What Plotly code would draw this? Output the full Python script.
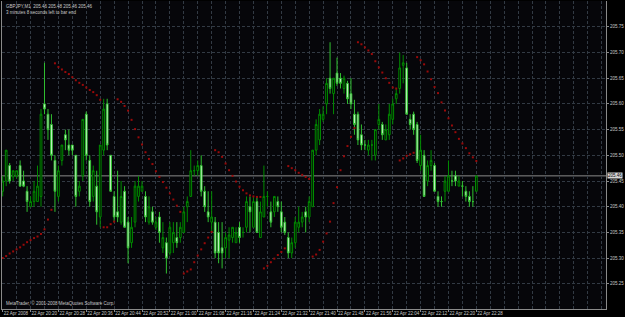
import pandas as pd
import plotly.graph_objects as go

# ---------------- data (GBPJPY, M1, 22 Apr 2008) ----------------
start_time = "2008-04-22 20:12"
n_bars = 137

opens = [205.43, 205.45, 205.48, 205.458, 205.46, 205.48, 205.45, 205.43, 205.40, 205.41,
         205.41, 205.42, 205.60, 205.58, 205.56, 205.49, 205.42, 205.49, 205.54, 205.52,
         205.52, 205.50, 205.43, 205.46, 205.58, 205.49, 205.42, 205.44, 205.38, 205.51,
         205.60, 205.50, 205.42, 205.39, 205.37, 205.43, 205.37, 205.33, 205.37, 205.42,
         205.43, 205.42, 205.37, 205.39, 205.36, 205.38, 205.32, 205.33, 205.31, 205.33,
         205.34, 205.34, 205.35, 205.40, 205.42, 205.47, 205.47, 205.48, 205.43, 205.39,
         205.37, 205.37, 205.35, 205.32, 205.32, 205.335, 205.34, 205.33, 205.36, 205.35,
         205.36, 205.40, 205.36, 205.41, 205.34, 205.38, 205.42, 205.39, 205.39, 205.41,
         205.39, 205.37, 205.34, 205.31, 205.33, 205.36, 205.37, 205.39, 205.38, 205.40,
         205.51, 205.53, 205.57, 205.60, 205.65, 205.62, 205.66, 205.65, 205.63, 205.64,
         205.62, 205.58, 205.58, 205.54, 205.52, 205.51, 205.52, 205.50, 205.56, 205.56,
         205.53, 205.54, 205.57, 205.61, 205.63, 205.675, 205.67, 205.57, 205.58, 205.56,
         205.48, 205.50, 205.45, 205.48, 205.48, 205.42, 205.41, 205.43, 205.43, 205.45,
         205.46, 205.44, 205.44, 205.43, 205.42, 205.41, 205.43]
highs = [205.46, 205.51, 205.485, 205.47, 205.47, 205.49, 205.47, 205.44, 205.42, 205.45,
         205.48, 205.59, 205.68, 205.59, 205.58, 205.50, 205.48, 205.52, 205.55, 205.55,
         205.52, 205.50, 205.45, 205.57, 205.585, 205.50, 205.48, 205.47, 205.52, 205.61,
         205.61, 205.50, 205.43, 205.47, 205.45, 205.44, 205.38, 205.38, 205.45, 205.46,
         205.45, 205.43, 205.42, 205.40, 205.38, 205.39, 205.37, 205.34, 205.37, 205.37,
         205.37, 205.37, 205.40, 205.42, 205.51, 205.48, 205.49, 205.50, 205.44, 205.43,
         205.43, 205.38, 205.37, 205.37, 205.35, 205.36, 205.36, 205.36, 205.37, 205.36,
         205.42, 205.42, 205.42, 205.42, 205.41, 205.48, 205.43, 205.41, 205.42, 205.42,
         205.41, 205.38, 205.35, 205.34, 205.38, 205.40, 205.39, 205.40, 205.42, 205.51,
         205.57, 205.59, 205.595, 205.65, 205.72, 205.65, 205.69, 205.66, 205.655, 205.645,
         205.65, 205.608, 205.585, 205.56, 205.53, 205.53, 205.53, 205.55, 205.60, 205.565,
         205.56, 205.60, 205.61, 205.63, 205.70, 205.695, 205.68, 205.58, 205.585, 205.565,
         205.54, 205.51, 205.49, 205.51, 205.485, 205.43, 205.42, 205.46, 205.49, 205.47,
         205.47, 205.46, 205.45, 205.44, 205.43, 205.44, 205.46]
lows = [205.42, 205.44, 205.445, 205.45, 205.455, 205.44, 205.438, 205.39, 205.40, 205.40,
        205.41, 205.40, 205.58, 205.53, 205.49, 205.39, 205.41, 205.48, 205.51, 205.50,
        205.50, 205.40, 205.42, 205.45, 205.49, 205.40, 205.41, 205.365, 205.36, 205.50,
        205.51, 205.43, 205.37, 205.37, 205.365, 205.36, 205.29, 205.32, 205.36, 205.41,
        205.43, 205.37, 205.365, 205.365, 205.355, 205.33, 205.31, 205.27, 205.305, 205.31,
        205.32, 205.33, 205.35, 205.37, 205.42, 205.46, 205.46, 205.42, 205.39, 205.37,
        205.35, 205.30, 205.29, 205.28, 205.30, 205.30, 205.33, 205.33, 205.33, 205.34,
        205.35, 205.35, 205.36, 205.35, 205.34, 205.38, 205.40, 205.36, 205.38, 205.39,
        205.35, 205.345, 205.30, 205.30, 205.32, 205.35, 205.36, 205.35, 205.37, 205.40,
        205.50, 205.52, 205.565, 205.58, 205.62, 205.58, 205.635, 205.63, 205.62, 205.60,
        205.59, 205.54, 205.52, 205.51, 205.51, 205.50, 205.49, 205.49, 205.55, 205.53,
        205.53, 205.53, 205.56, 205.60, 205.62, 205.64, 205.58, 205.55, 205.54, 205.485,
        205.47, 205.42, 205.44, 205.47, 205.43, 205.40, 205.40, 205.41, 205.43, 205.44,
        205.44, 205.44, 205.42, 205.41, 205.40, 205.40, 205.43]
closes = [205.45, 205.51, 205.45, 205.47, 205.47, 205.44, 205.44, 205.41, 205.41, 205.43,
          205.44, 205.58, 205.59, 205.55, 205.50, 205.43, 205.47, 205.52, 205.53, 205.51,
          205.51, 205.42, 205.44, 205.57, 205.50, 205.41, 205.47, 205.39, 205.52, 205.59,
          205.52, 205.43, 205.38, 205.38, 205.42, 205.36, 205.32, 205.36, 205.44, 205.44,
          205.44, 205.38, 205.40, 205.37, 205.37, 205.35, 205.34, 205.30, 205.36, 205.35,
          205.33, 205.36, 205.39, 205.41, 205.47, 205.47, 205.48, 205.43, 205.40, 205.38,
          205.38, 205.31, 205.31, 205.31, 205.34, 205.345, 205.36, 205.35, 205.34, 205.35,
          205.41, 205.39, 205.41, 205.35, 205.39, 205.42, 205.42, 205.37, 205.42, 205.40,
          205.36, 205.35, 205.31, 205.33, 205.37, 205.37, 205.38, 205.38, 205.41, 205.51,
          205.56, 205.58, 205.58, 205.64, 205.63, 205.65, 205.64, 205.64, 205.65, 205.61,
          205.60, 205.56, 205.53, 205.52, 205.52, 205.52, 205.52, 205.55, 205.57, 205.54,
          205.55, 205.58, 205.60, 205.62, 205.67, 205.68, 205.58, 205.56, 205.55, 205.49,
          205.51, 205.42, 205.48, 205.49, 205.43, 205.41, 205.41, 205.45, 205.46, 205.45,
          205.45, 205.45, 205.44, 205.42, 205.41, 205.41, 205.46]
# Parabolic SAR values
sar = [205.300, 205.304, 205.309, 205.313, 205.317, 205.321, 205.326, 205.331, 205.335, 205.339,
       205.342, 205.347, 205.356, 205.375, 205.394,
       205.679, 205.672, 205.667, 205.662, 205.658, 205.652, 205.646, 205.641, 205.637, 205.632,
       205.627, 205.623, 205.617, 205.608,
       205.360, 205.360, 205.366, 205.371,
       205.609, 205.604, 205.596, 205.587, 205.569, 205.551, 205.535, 205.521, 205.506, 205.493,
       205.483, 205.469, 205.458, 205.448, 205.437, 205.426, 205.414, 205.402, 205.390,
       205.270, 205.274, 205.278, 205.292, 205.305, 205.317, 205.329, 205.340, 205.351,
       205.510, 205.506, 205.497, 205.484, 205.471, 205.460, 205.449, 205.439, 205.432, 205.426,
       205.422, 205.420, 205.419, 205.419,
       205.280, 205.285, 205.292, 205.299, 205.306, 205.312, 205.319,
       205.479, 205.475, 205.471, 205.466, 205.462, 205.458, 205.454,
       205.303, 205.307, 205.316, 205.332, 205.348, 205.371, 205.407, 205.438, 205.471, 205.498,
       205.518, 205.536, 205.553,
       205.720, 205.716, 205.710, 205.704, 205.697, 205.683, 205.671, 205.661, 205.650, 205.641,
       205.632, 205.630,
       205.490, 205.494, 205.499, 205.502, 205.505,
       205.691, 205.685, 205.677, 205.663, 205.648, 205.633, 205.621, 205.603, 205.587, 205.572,
       205.558, 205.545, 205.532, 205.523, 205.514, 205.504, 205.496, 205.489]

price_ticks = [205.25, 205.30, 205.35, 205.40, 205.45, 205.50, 205.55, 205.60, 205.65, 205.70, 205.75]
title_text = "GBPJPY,M1  205.46 205.48 205.46 205.46<br>3 minutes 8 seconds left to bar end"
copyright_text = "MetaTrader, © 2001-2008 MetaQuotes Software Corp."

# ---------------- figure ----------------
times = pd.date_range(start_time, periods=n_bars, freq="min")
label_idx = list(range(0, n_bars, 8))
tick_vals = [times[i] for i in label_idx]
tick_text = ["22 Apr 2008"] + ["22 Apr " + times[i].strftime("%H:%M") for i in label_idx[1:]]

x_start = times[0] - pd.Timedelta(minutes=0.2)
x_end = times[0] + pd.Timedelta(minutes=173.23)

grid_col = "#323a44"
grid_dash = "3px,2px"
text_col = "#c8c8c8"
font_fam = "Liberation Sans, Arial, sans-serif"

fig = go.Figure()
fig.add_trace(go.Scatter(
    x=times, y=sar, mode="markers",
    marker=dict(symbol="square", size=2, color="#9a0a0a", line=dict(width=0)),
    hoverinfo="skip", showlegend=False,
))
fig.add_trace(go.Candlestick(
    x=times, open=opens, high=highs, low=lows, close=closes,
    increasing=dict(line=dict(color="#008c00", width=1), fillcolor="#000000"),
    decreasing=dict(line=dict(color="#30c030", width=1), fillcolor="#f0fff0"),
    whiskerwidth=0, showlegend=False,
))

last_close = closes[-1]
fig.add_shape(type="line", xref="paper", x0=0, x1=1, yref="y", y0=last_close, y1=last_close,
              line=dict(color="#8a8a8a", width=1), layer="below")

fig.add_annotation(xref="paper", yref="paper", x=0, y=1, xanchor="left", yanchor="top",
                   xshift=2, yshift=-1, text=title_text, showarrow=False, align="left",
                   font=dict(size=4.5, color=text_col, family=font_fam))
fig.add_annotation(xref="paper", yref="paper", x=0, y=0, xanchor="left", yanchor="bottom",
                   xshift=2, yshift=1, text=copyright_text, showarrow=False, align="left",
                   font=dict(size=4.5, color=text_col, family=font_fam))
fig.add_annotation(xref="paper", yref="y", x=1, y=last_close, xanchor="left", yanchor="middle",
                   xshift=1, text=f"{last_close:.2f}", showarrow=False,
                   bgcolor="#d8d8d8", borderpad=0,
                   font=dict(size=4.5, color="#000000", family=font_fam))

fig.update_layout(
    width=625, height=317,
    margin=dict(l=1, r=17, t=1, b=8),
    paper_bgcolor="#000000", plot_bgcolor="#06060a",
    font=dict(family=font_fam, size=4.5, color=text_col),
    hovermode=False, boxgap=0.3,
    xaxis=dict(
        type="date", range=[x_start, x_end], rangeslider=dict(visible=False),
        tickvals=tick_vals, ticktext=tick_text, ticklabelposition="outside right",
        tickangle=0,
        ticks="outside", ticklen=2, tickcolor="#8a8a8a",
        showgrid=True, gridcolor=grid_col, griddash=grid_dash, gridwidth=1,
        minor=dict(dtick=240000, tick0=times[0], showgrid=True, gridcolor=grid_col,
                   griddash=grid_dash, gridwidth=1),
        showline=True, linecolor="#8a8a8a", linewidth=1, zeroline=False,
        tickfont=dict(size=4.5, color=text_col),
    ),
    yaxis=dict(
        side="right", range=[205.2010, 205.8002],
        tickvals=price_ticks, ticktext=[f"{v:.2f}" for v in price_ticks],
        ticks="outside", ticklen=2, tickcolor="#8a8a8a",
        showgrid=True, gridcolor=grid_col, griddash=grid_dash, gridwidth=1,
        showline=True, mirror=True, linecolor="#8a8a8a", linewidth=1, zeroline=False,
        tickfont=dict(size=4.5, color=text_col),
    ),
)

fig.write_html("out.html")
